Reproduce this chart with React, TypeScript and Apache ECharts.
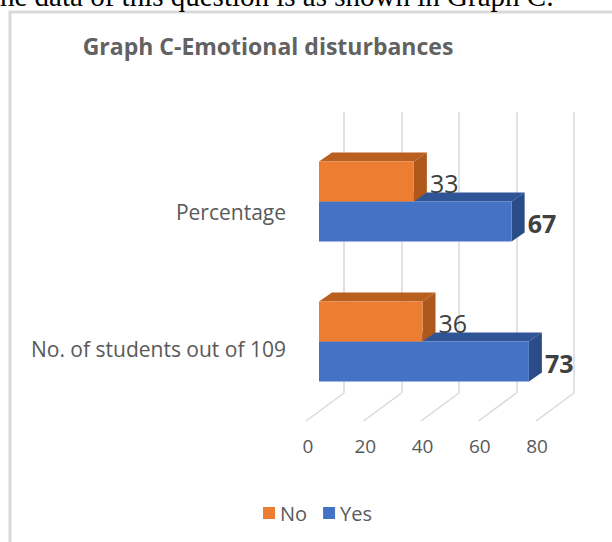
import React, { useEffect, useRef } from "react";
import * as echarts from "echarts";

// Categories (bottom to top on the category axis)
const categories = ["No. of students out of 109", "Percentage"];
const seriesNames = ["No", "Yes"];
const noValues = [36, 33];
const yesValues = [73, 67];
const xTicks = [0, 20, 40, 60, 80];

const AXIS_MIN = 0;
const AXIS_MAX = 80;
const AXIS_STEP = 20;

// Pseudo-3D geometry
const BAR_THICK = 40;
const BAR_DX = 13;
const BAR_DY = -9;
const FLOOR_DX = -38;
const FLOOR_DY = 28;

const FONT = "'Open Sans', 'Noto Sans', sans-serif";
const TEXT_GRAY = "#595959";
const GRID_GRAY = "#d9d9d9";

type Palette = { front: string; top: string; side: string };
const NO_COLORS: Palette = { front: "#ED7D31", top: "#B95F1F", side: "#AE581C" };
const YES_COLORS: Palette = { front: "#4472C4", top: "#2F5597", side: "#2A4C88" };

function makeBarRenderer(upper: boolean, pal: Palette, bold: boolean) {
  return (_params: any, api: any) => {
    const val = api.value(0);
    const cat = api.value(1);
    const start = api.coord([0, cat]);
    const end = api.coord([val, cat]);
    const cy = start[1];
    const y0 = upper ? cy - BAR_THICK : cy;
    const y1 = y0 + BAR_THICK;
    const x0 = start[0];
    const x1 = end[0];
    return {
      type: "group",
      children: [
        {
          type: "polygon",
          shape: { points: [[x0, y0], [x0 + BAR_DX, y0 + BAR_DY], [x1 + BAR_DX, y0 + BAR_DY], [x1, y0]] },
          style: { fill: pal.top },
        },
        {
          type: "polygon",
          shape: { points: [[x1, y0], [x1 + BAR_DX, y0 + BAR_DY], [x1 + BAR_DX, y1 + BAR_DY], [x1, y1]] },
          style: { fill: pal.side },
        },
        {
          type: "rect",
          shape: { x: x0, y: y0, width: x1 - x0, height: BAR_THICK },
          style: { fill: pal.front },
        },
        {
          type: "text",
          x: x1 + BAR_DX + 3,
          y: (y0 + y1) / 2 + 1,
          style: {
            text: String(val),
            fill: "#404040",
            fontSize: 25,
            fontWeight: bold ? "bold" : "normal",
            fontFamily: FONT,
            align: "left",
            verticalAlign: "middle",
          },
        },
      ],
    };
  };
}

export default function App() {
  const ref = useRef<HTMLDivElement>(null);

  useEffect(() => {
    if (!ref.current) return;
    const chart = echarts.init(ref.current, undefined, { renderer: "svg" });

    const option: any = {
      animation: false,
      backgroundColor: "#ffffff",
      graphic: [
        {
          type: "text",
          x: 0,
          y: -4,
          silent: true,
          style: {
            text: "he data of this question is as shown in Graph C:",
            fill: "#000000",
            fontSize: 29,
            fontFamily: "'Liberation Serif', 'DejaVu Serif', serif",
            align: "left",
            verticalAlign: "middle",
          },
        },
        {
          type: "rect",
          silent: true,
          z: -10,
          shape: { x: 10, y: 12, width: 800, height: 700 },
          style: { fill: "none", stroke: GRID_GRAY, lineWidth: 3 },
        },
        {
          type: "text",
          x: 268,
          y: 46,
          silent: true,
          style: {
            text: "Graph C-Emotional disturbances",
            fill: "#626262",
            fontSize: 23,
            fontWeight: "bold",
            fontFamily: FONT,
            align: "center",
            verticalAlign: "middle",
          },
        },
      ],
      legend: {
        data: seriesNames,
        left: 258,
        top: 498,
        itemWidth: 12,
        itemHeight: 12,
        itemGap: 16,
        icon: "rect",
        textStyle: { color: TEXT_GRAY, fontSize: 20, fontFamily: FONT },
      },
      grid: [
        // back wall
        { left: 344, top: 112, width: 230, height: 281 },
        // front plane with the axis labels
        { left: 308, top: 143.5, width: 229, height: 274 },
        // bar plane
        { left: 319, top: 131.5, width: 230, height: 280 },
      ],
      xAxis: [
        {
          gridIndex: 0,
          type: "value",
          min: AXIS_MIN,
          max: AXIS_MAX,
          interval: AXIS_STEP,
          axisLabel: { show: false },
          axisLine: { show: false },
          axisTick: { show: false },
          splitLine: { show: true, lineStyle: { color: GRID_GRAY, width: 1.5 } },
        },
        {
          gridIndex: 1,
          type: "value",
          min: AXIS_MIN,
          max: AXIS_MAX,
          interval: AXIS_STEP,
          axisLabel: { color: TEXT_GRAY, fontSize: 19, fontFamily: FONT, margin: 19 },
          axisLine: { show: false },
          axisTick: { show: false },
          splitLine: { show: false },
        },
        {
          gridIndex: 2,
          type: "value",
          min: AXIS_MIN,
          max: AXIS_MAX,
          interval: AXIS_STEP,
          show: false,
        },
      ],
      yAxis: [
        { gridIndex: 0, type: "value", min: 0, max: 1, show: false },
        {
          gridIndex: 1,
          type: "category",
          data: categories,
          axisLabel: { color: TEXT_GRAY, fontSize: 21, fontFamily: FONT, margin: 22 },
          axisLine: { show: false },
          axisTick: { show: false },
          splitLine: { show: false },
        },
        { gridIndex: 2, type: "category", data: categories, show: false },
      ],
      series: [
        {
          name: "floor",
          type: "custom",
          xAxisIndex: 0,
          yAxisIndex: 0,
          silent: true,
          z: 1,
          data: xTicks.map((v) => [v, 0]),
          renderItem: (_p: any, api: any) => {
            const p = api.coord([api.value(0), 0]);
            return {
              type: "line",
              shape: { x1: p[0], y1: p[1], x2: p[0] + FLOOR_DX, y2: p[1] + FLOOR_DY },
              style: { stroke: GRID_GRAY, lineWidth: 1.5 },
            };
          },
        },
        {
          name: "Yes",
          type: "custom",
          xAxisIndex: 2,
          yAxisIndex: 2,
          z: 2,
          itemStyle: { color: YES_COLORS.front },
          data: yesValues.map((v, i) => [v, i]),
          renderItem: makeBarRenderer(false, YES_COLORS, true),
        },
        {
          name: "No",
          type: "custom",
          xAxisIndex: 2,
          yAxisIndex: 2,
          z: 3,
          itemStyle: { color: NO_COLORS.front },
          data: noValues.map((v, i) => [v, i]),
          renderItem: makeBarRenderer(true, NO_COLORS, false),
        },
      ],
    };

    chart.setOption(option);
    return () => chart.dispose();
  }, []);

  return (
    <div
      ref={ref}
      style={{ position: "fixed", left: 0, top: 0, width: 612, height: 542 }}
    />
  );
}
